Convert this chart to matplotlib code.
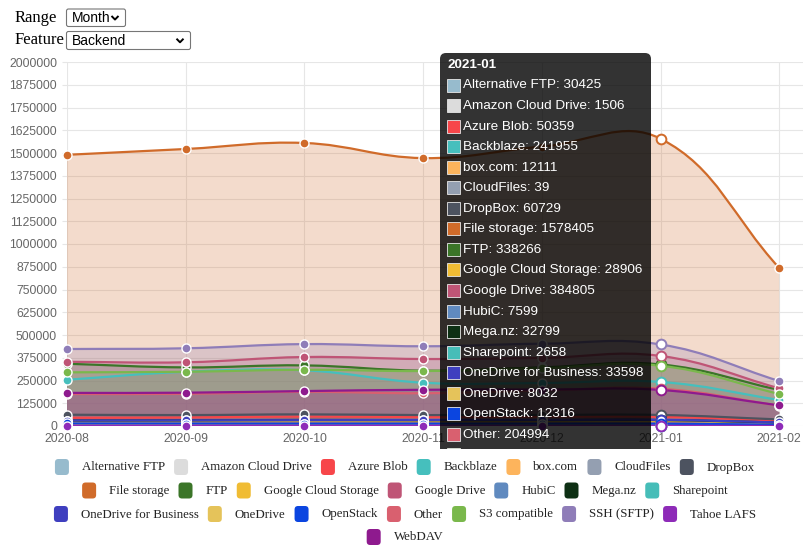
import numpy as np
import matplotlib.pyplot as plt
from matplotlib.path import Path
from matplotlib.patches import PathPatch, FancyBboxPatch

# Data (2021-01 values from the tooltip)
months = ['2020-08', '2020-09', '2020-10', '2020-11', '2020-12', '2021-01', '2021-02']

names = ['Alternative FTP', 'Amazon Cloud Drive', 'Azure Blob', 'Backblaze', 'box.com',
         'CloudFiles', 'DropBox', 'File storage', 'FTP', 'Google Cloud Storage',
         'Google Drive', 'HubiC', 'Mega.nz', 'Sharepoint', 'OneDrive for Business',
         'OneDrive', 'OpenStack', 'Other', 'S3 compatible', 'SSH (SFTP)', 'Tahoe LAFS',
         'WebDAV']

colors = ['#97bbcd', '#dcdcdc', '#f7464a', '#46bfbd', '#fdb45c', '#949fb1', '#4d5360',
          '#d06b2a', '#3b7528', '#f0bc34', '#bf5576', '#608abf', '#0e3014', '#46bdb8',
          '#3f3fbf', '#e5c35a', '#0b45e0', '#d9606f', '#7ab84c', '#8f7db8', '#8e2bb8',
          '#8e1a8e']

alternative_ftp = [25000, 27000, 29000, 28000, 30000, 30425, 18000]
amazon_cloud_drive = [2500, 2300, 2100, 1900, 1700, 1506, 900]
azure_blob = [45000, 47000, 52000, 49000, 51000, 50359, 30000]
backblaze = [254000, 298000, 306000, 238000, 236000, 241955, 143000]
box_com = [14000, 13500, 13000, 12500, 12300, 12111, 7000]
cloudfiles = [60, 55, 50, 45, 42, 39, 20]
dropbox = [62000, 60000, 64000, 60000, 61000, 60729, 36000]
file_storage = [1490000, 1522000, 1555000, 1472000, 1535000, 1578405, 868000]
ftp = [342000, 322000, 333000, 304000, 322000, 338266, 198000]
google_cloud_storage = [26000, 27000, 28000, 27500, 28500, 28906, 17000]
google_drive = [353000, 350000, 379000, 368000, 374000, 384805, 207000]
hubic = [9000, 8800, 8500, 8000, 7800, 7599, 4500]
mega_nz = [30000, 31000, 33000, 32000, 32500, 32799, 19000]
sharepoint = [3000, 2900, 2800, 2700, 2700, 2658, 1500]
onedrive_business = [30000, 31000, 32000, 32500, 33000, 33598, 20000]
onedrive = [9000, 8800, 8500, 8300, 8100, 8032, 4800]
openstack = [14000, 13500, 13000, 12800, 12500, 12316, 7200]
other = [176000, 177000, 188000, 180000, 195000, 204994, 112000]
s3_compatible = [295000, 298000, 309000, 302000, 318000, 331000, 176000]
ssh_sftp = [423000, 427000, 450000, 438000, 452000, 448000, 247000]
tahoe_lafs = [1500, 1400, 1300, 1200, 1100, 1000, 600]
webdav = [182000, 183000, 192000, 199000, 200000, 198000, 113000]

series = [alternative_ftp, amazon_cloud_drive, azure_blob, backblaze, box_com, cloudfiles,
          dropbox, file_storage, ftp, google_cloud_storage, google_drive, hubic, mega_nz,
          sharepoint, onedrive_business, onedrive, openstack, other, s3_compatible,
          ssh_sftp, tahoe_lafs, webdav]

hover = 5  # 2021-01 column is hovered
ymax = 2000000
ystep = 125000

# Figure and plot area (pixels)
W, H = 810, 546
L, R, T, B = 67, 803, 62, 426
fig = plt.figure(figsize=(W / 100, H / 100), dpi=100)
ax = fig.add_axes([L / W, 1 - B / H, (R - L) / W, (B - T) / H])
xmax = 6.2
ax.set_xlim(0, xmax)
ax.set_ylim(0, ymax)
sx = (R - L) / xmax
sy = (B - T) / ymax

sans = ['Liberation Sans', 'DejaVu Sans']
serif = ['Liberation Serif', 'DejaVu Serif']
grid_c = '#e6e6e6'


def spline_verts(vals, t=0.4):
    # bezier control points the same way chart.js does it (in pixel space)
    n = len(vals)
    px = np.arange(n) * sx
    py = np.asarray(vals, float) * sy
    verts = [(px[0], py[0])]
    cprev, cnext = [], []
    for i in range(n):
        a, b = max(i - 1, 0), min(i + 1, n - 1)
        d01 = np.hypot(px[i] - px[a], py[i] - py[a])
        d12 = np.hypot(px[b] - px[i], py[b] - py[i])
        s01 = d01 / (d01 + d12) if d01 + d12 else 0
        s12 = d12 / (d01 + d12) if d01 + d12 else 0
        dx, dy = px[b] - px[a], py[b] - py[a]
        cprev.append((px[i] - t * s01 * dx, np.clip(py[i] - t * s01 * dy, 0, B - T)))
        cnext.append((px[i] + t * s12 * dx, np.clip(py[i] + t * s12 * dy, 0, B - T)))
    for i in range(n - 1):
        verts += [cnext[i], cprev[i + 1], (px[i + 1], py[i + 1])]
    v = np.array(verts)
    v[:, 0] /= sx
    v[:, 1] /= sy
    return v


# Fills first, then lines and points
curves = [spline_verts(s) for s in series]
for c, v in zip(colors, curves):
    fv = np.vstack([[v[0, 0], 0], v, [v[-1, 0], 0], [v[0, 0], 0]])
    codes = [Path.MOVETO, Path.LINETO] + [Path.CURVE4] * (len(v) - 1) + [Path.LINETO, Path.CLOSEPOLY]
    ax.add_patch(PathPatch(Path(fv, codes), facecolor=c, alpha=0.24, edgecolor='none', zorder=1))

for c, v, s in zip(colors, curves, series):
    codes = [Path.MOVETO] + [Path.CURVE4] * (len(v) - 1)
    ax.add_patch(PathPatch(Path(v, codes), facecolor='none', edgecolor=c, lw=1.6, zorder=2))
    xs = [i for i in range(len(s)) if i != hover]
    ax.plot(xs, [s[i] for i in xs], 'o', ms=6.5, mfc=c, mec='white', mew=1, zorder=3, clip_on=False)
    ax.plot([hover], [s[hover]], 'o', ms=7, mfc='white', mec=c, mew=1.4, zorder=3, clip_on=False)

# Axes look
ax.set_yticks(np.arange(0, ymax + 1, ystep))
ax.set_yticklabels([str(v) for v in np.arange(0, ymax + 1, ystep)])
ax.set_xticks(range(len(months)))
ax.set_xticklabels(months)
ax.grid(True, color=grid_c, lw=0.8)
ax.set_axisbelow(True)
for sp in ax.spines.values():
    sp.set_visible(False)
ax.tick_params(axis='y', length=3.6, width=0.8, color=grid_c, pad=3.6, labelsize=8.7, labelcolor='#666666')
ax.tick_params(axis='x', length=3.6, width=0.8, color=grid_c, pad=1.5, labelsize=8.7, labelcolor='#666666')
for lb in ax.get_xticklabels() + ax.get_yticklabels():
    lb.set_family(sans)
ax.patch.set_visible(False)

# Overlay in pixel coordinates for the html bits
ui = fig.add_axes([0, 0, 1, 1], zorder=5)
ui.set_xlim(0, W)
ui.set_ylim(H, 0)
ui.axis('off')
ui.patch.set_visible(False)

# Range / Feature selects
ui.text(15, 17.5, 'Range', family=serif, fontsize=12, va='center', color='black')
ui.text(15, 40.5, 'Feature', family=serif, fontsize=12, va='center', color='black')
for x0, x1, y0, y1, label in [(66.5, 125.5, 9, 26.5, 'Month'), (66.5, 190.5, 31.5, 49.5, 'Backend')]:
    ui.add_patch(FancyBboxPatch((x0, y0), x1 - x0, y1 - y0, boxstyle='round,pad=0,rounding_size=2',
                                facecolor='white', edgecolor='#767676', lw=0.8))
    ui.text(x0 + 5, (y0 + y1) / 2 + 0.5, label, family=sans, fontsize=10, va='center', color='black')
    cx, cy = x1 - 10.5, (y0 + y1) / 2
    ui.plot([cx - 3.5, cx, cx + 3.5], [cy - 1.8, cy + 1.8, cy - 1.8], color='black', lw=1.4,
            solid_capstyle='butt')

# Html legend under the chart, rows centered
rows = [7, 7, 7, 1]
row_y = [467, 490.5, 514, 537]
r = fig.canvas.get_renderer()
texts = [ui.text(0, 0, n, family=serif, fontsize=9.3, va='center', color='#222222') for n in names]
widths = [t.get_window_extent(renderer=r).width for t in texts]
k = 0
for cnt, yc in zip(rows, row_y):
    idx = list(range(k, k + cnt))
    k += cnt
    tot = sum(14 + 13 + widths[i] for i in idx) + 9 * (cnt - 1)
    x = 405 - tot / 2
    for i in idx:
        ui.add_patch(FancyBboxPatch((x, yc - 8), 14, 16, boxstyle='round,pad=0,rounding_size=3.5',
                                    facecolor=colors[i], edgecolor='none'))
        texts[i].set_position((x + 27, yc + 0.5))
        x += 27 + widths[i] + 9

# Tooltip, clipped at the bottom of the canvas
tip = fig.add_axes([0, 1 - 449 / H, 1, 449 / H], zorder=6)
tip.set_xlim(0, W)
tip.set_ylim(449, 0)
tip.axis('off')
tip.patch.set_visible(False)
tip.add_patch(FancyBboxPatch((440, 53), 211, 480, boxstyle='round,pad=0,rounding_size=6',
                             facecolor='black', alpha=0.8, edgecolor='none', clip_on=True))
tip.text(447, 64.7, months[hover], family=sans, fontsize=9.7, fontweight='bold', color='white',
         va='center', clip_on=True)
for i, (n, s) in enumerate(zip(names, series)):
    yc = 85 + i * 20.55
    tip.add_patch(FancyBboxPatch((446.5, yc - 6.5), 13, 13, boxstyle='square,pad=0',
                                 facecolor=colors[i], edgecolor='#e8e8e8', lw=0.6, clip_on=True))
    tip.text(463, yc + 0.5, f'{n}: {s[hover]}', family=sans, fontsize=9.7, color='white',
             va='center', clip_on=True)

fig.savefig('out.png', dpi=100)
